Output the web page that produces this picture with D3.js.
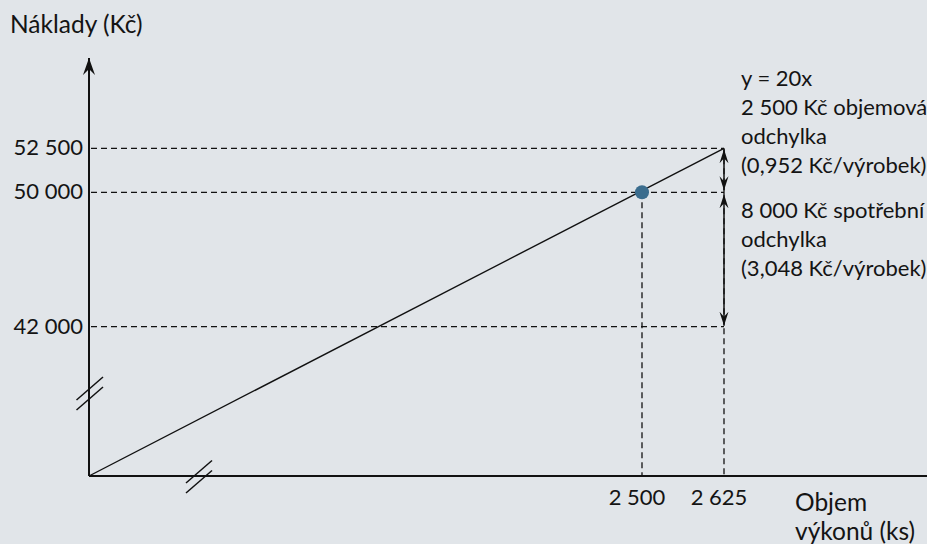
<!DOCTYPE html>
<html>
<head>
<meta charset="utf-8">
<script src="https://cdn.jsdelivr.net/npm/d3@7"></script>
<style>
  html, body { margin: 0; padding: 0; background: #e1e5e9; }
  svg { display: block; font-family: Lato, "Open Sans", sans-serif; }
  text { fill: #141414; }
</style>
</head>
<body>
<svg id="chart" width="927" height="544"></svg>
<script>
// Cost line y = 20x, with a broken (non-linear) scale on both axes
const xTicks = [2500, 2625];
const xTickLabels = ["2 500", "2 625"];
const yTicks = [42000, 50000, 52500];
const yTickLabels = ["42 000", "50 000", "52 500"];
const costLine = [[0, 0], [2625, 52500]];
const actualPoint = [2500, 50000];
const volumeArrow = [52500, 50000];
const spendingArrow = [50000, 42000];
const volumeNote = ["y = 20x", "2 500 Kč objemová", "odchylka", "(0,952 Kč/výrobek)"];
const spendingNote = ["8 000 Kč spotřební", "odchylka", "(3,048 Kč/výrobek)"];
const yTitle = "Náklady (Kč)";
const xTitle = ["Objem", "výkonů (ks)"];

const W = 927, H = 544;
const svg = d3.select("#chart");
const fs = 22, fsTitle = 24.5;

// broken axes: piecewise linear scales
const x = d3.scaleLinear().domain([0, 2500, 2625]).range([89, 642, 724]);
const y = d3.scaleLinear().domain([0, 42000, 50000, 52500]).range([476, 326.7, 192.3, 148.3]);

const x0 = x(0), y0 = y(0);
const axisTop = 58;

// arrowhead markers
const defs = svg.append("defs");
defs.append("marker")
  .attr("id", "head")
  .attr("viewBox", "-14 -6 15 12")
  .attr("refX", 0).attr("refY", 0)
  .attr("markerUnits", "userSpaceOnUse")
  .attr("markerWidth", 15).attr("markerHeight", 12)
  .attr("orient", "auto-start-reverse")
  .append("path")
  .attr("d", "M0,0 L-14,-4.5 L-9,0 L-14,4.5 Z")
  .attr("fill", "#111");
defs.append("marker")
  .attr("id", "axisHead")
  .attr("viewBox", "-18 -7 19 14")
  .attr("refX", 0).attr("refY", 0)
  .attr("markerUnits", "userSpaceOnUse")
  .attr("markerWidth", 19).attr("markerHeight", 14)
  .attr("orient", "auto")
  .append("path")
  .attr("d", "M0,0 L-17,-6 L-11,0 L-17,6 Z")
  .attr("fill", "#111");

// dashed guide lines
const guides = svg.append("g")
  .attr("stroke", "#111").attr("stroke-width", 1.3)
  .attr("stroke-dasharray", "6,4").attr("fill", "none");
yTicks.forEach(v => {
  guides.append("line")
    .attr("x1", x0 + 2).attr("x2", x(2625))
    .attr("y1", y(v)).attr("y2", y(v));
});
xTicks.forEach(v => {
  guides.append("line")
    .attr("x1", x(v)).attr("x2", x(v))
    .attr("y1", y(v * 20)).attr("y2", y0);
});

// axes
svg.append("line")
  .attr("x1", x0).attr("x2", W)
  .attr("y1", y0).attr("y2", y0)
  .attr("stroke", "#111").attr("stroke-width", 2);
svg.append("line")
  .attr("x1", x0).attr("x2", x0)
  .attr("y1", y0).attr("y2", axisTop)
  .attr("stroke", "#111").attr("stroke-width", 2)
  .attr("marker-end", "url(#axisHead)");

// axis break marks
const breaks = svg.append("g").attr("stroke", "#111").attr("stroke-width", 1.5);
[0, 10].forEach(off => {
  breaks.append("line")
    .attr("x1", x0 - 12.5).attr("y1", 400 + off)
    .attr("x2", x0 + 14).attr("y2", 377 + off);
  breaks.append("line")
    .attr("x1", 186).attr("y1", y0 + 7 + off)
    .attr("x2", 212).attr("y2", y0 - 15.5 + off);
});

// cost line
svg.append("path")
  .datum(costLine)
  .attr("d", d3.line().x(d => x(d[0])).y(d => y(d[1])))
  .attr("stroke", "#111").attr("stroke-width", 1.4).attr("fill", "none");

// variance arrows
const arrowX = x(2625);
[[volumeArrow, 1, 2], [spendingArrow, 2, 1]].forEach(([a, t, b]) => {
  svg.append("line")
    .attr("x1", arrowX).attr("x2", arrowX)
    .attr("y1", y(a[0]) + t).attr("y2", y(a[1]) - b)
    .attr("stroke", "#111").attr("stroke-width", 1.5)
    .attr("marker-start", "url(#head)")
    .attr("marker-end", "url(#head)");
});

// actual point
svg.append("circle")
  .attr("cx", x(actualPoint[0])).attr("cy", y(actualPoint[1]))
  .attr("r", 7).attr("fill", "#3b6d8e");

// tick labels
svg.append("g").selectAll("text")
  .data(yTicks)
  .join("text")
  .attr("x", 83).attr("y", d => y(d) + 7)
  .attr("text-anchor", "end")
  .attr("font-size", fs)
  .text((d, i) => yTickLabels[i]);
svg.append("g").selectAll("text")
  .data(xTicks)
  .join("text")
  .attr("x", d => x(d) - 5).attr("y", 505)
  .attr("text-anchor", "middle")
  .attr("font-size", fs)
  .text((d, i) => xTickLabels[i]);

// titles
svg.append("text")
  .attr("x", 10).attr("y", 33)
  .attr("font-size", fsTitle)
  .text(yTitle);
const xt = svg.append("text").attr("x", 795).attr("y", 511).attr("font-size", fsTitle);
xTitle.forEach((s, i) => xt.append("tspan").attr("x", 795).attr("dy", i ? 29 : 0).text(s));

// annotations
function note(lines, top) {
  const t = svg.append("text").attr("x", 741).attr("y", top).attr("font-size", fs);
  lines.forEach((s, i) => t.append("tspan").attr("x", 741).attr("dy", i ? 29 : 0).text(s));
}
note(volumeNote, 86);
note(spendingNote, 218);
</script>
</body>
</html>
